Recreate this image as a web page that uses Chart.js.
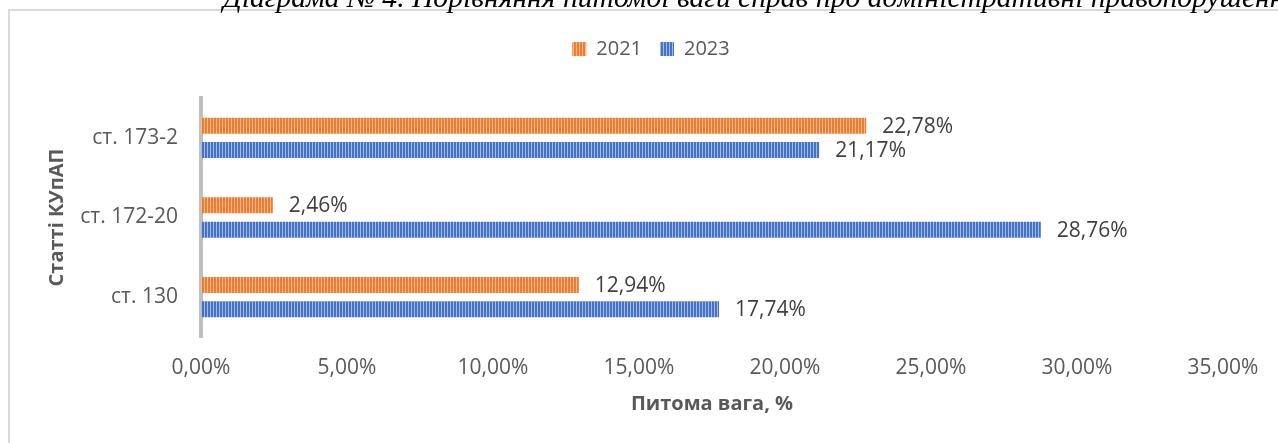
<!DOCTYPE html>
<html>
<head>
<meta charset="utf-8">
<script src="https://cdn.jsdelivr.net/npm/chart.js@4.4.1/dist/chart.umd.min.js"></script>
<style>
  html, body { margin: 0; padding: 0; background: #fff; overflow: hidden; width: 1278px; height: 443px; }
  #frame { position: absolute; left: 8px; top: 9px; width: 1284px; height: 434px;
           border-left: 2px solid #d9d9d9; border-top: 2px solid #d9d9d9; background: #fff; }
  #c { position: absolute; left: 0; top: 0; }
  #doc-title { position: absolute; left: 223px; top: -18px; white-space: nowrap; z-index: 2;
               font-family: "Liberation Serif", "DejaVu Serif", serif; font-style: italic;
               font-size: 29.6px; line-height: 30px; color: #000; }
</style>
</head>
<body>
<div id="frame"><canvas id="c" width="1282" height="432"></canvas></div>
<div id="doc-title">Діаграма № 4. Порівняння питомої ваги справ про адміністративні правопорушення</div>
<script>
// ---- data ----
const categories = ['ст. 173-2', 'ст. 172-20', 'ст. 130'];
const seriesNames = ['2021', '2023'];
const values2021 = [22.78, 2.46, 12.94];
const values2023 = [21.17, 28.76, 17.74];
const xTickMin = 0;
const xTickMax = 35;
const xTickStep = 5;
const xAxisTitle = 'Питома вага, %';
const yAxisTitle = 'Статті КУпАП';

// ---- helpers ----
const fmt = v => v.toFixed(2).replace('.', ',') + '%';
const canvas = document.getElementById('c');
const ctx = canvas.getContext('2d');

function stripes(base, light) {
  const p = document.createElement('canvas');
  p.width = 3; p.height = 4;
  const g = p.getContext('2d');
  g.fillStyle = base; g.fillRect(0, 0, 3, 4);
  g.fillStyle = light; g.fillRect(2, 0, 1, 4);
  return ctx.createPattern(p, 'repeat');
}
const orangeFill = stripes('#ED7D31', '#F7B98E');
const blueFill = stripes('#4472C4', '#A3BBE8');

const valueLabels = {
  id: 'valueLabels',
  afterDatasetsDraw(chart) {
    const c = chart.ctx;
    c.save();
    c.font = '21px "Open Sans"';
    c.fillStyle = '#404040';
    c.textAlign = 'left';
    c.textBaseline = 'middle';
    chart.data.datasets.forEach((ds, di) => {
      chart.getDatasetMeta(di).data.forEach((bar, i) => {
        c.fillText(fmt(ds.data[i]), bar.x + 16, bar.y + 1);
      });
    });
    c.restore();
  }
};

const tickFont = { family: 'Open Sans', size: 21 };
const legendFont = { family: 'Open Sans', size: 20 };
const titleFont = { family: 'Open Sans', size: 20, weight: 'bold' };

new Chart(ctx, {
  type: 'bar',
  data: {
    labels: categories,
    datasets: [
      { label: seriesNames[0], data: values2021, backgroundColor: orangeFill, borderWidth: 0 },
      { label: seriesNames[1], data: values2023, backgroundColor: blueFill, borderWidth: 0 }
    ]
  },
  options: {
    indexAxis: 'y',
    responsive: false,
    animation: false,
    layout: { padding: { left: 10, right: 10, top: 10, bottom: 0 } },
    datasets: { bar: { categoryPercentage: 0.61, barPercentage: 0.66 } },
    plugins: {
      legend: {
        position: 'top', align: 'center',
        labels: { boxWidth: 14, boxHeight: 14, padding: 18, color: '#595959', font: legendFont }
      },
      subtitle: {
        display: true, text: '', position: 'top', weight: 500,
        font: { size: 10, lineHeight: 1 }, padding: { top: 19, bottom: 0 }
      },
      tooltip: { enabled: false }
    },
    scales: {
      x: {
        min: xTickMin, max: xTickMax,
        ticks: { stepSize: xTickStep, callback: v => fmt(v), color: '#595959', font: tickFont, padding: 18 },
        grid: { display: false, drawTicks: false },
        border: { display: false },
        title: { display: true, text: xAxisTitle, color: '#595959', font: titleFont, padding: { top: 0, bottom: 27 } },
        afterFit(s) { s.height = 106; s.paddingRight = 69; }
      },
      y: {
        z: 1,
        ticks: { color: '#595959', font: tickFont, padding: 23 },
        grid: { display: false, drawTicks: false },
        border: { display: true, color: '#bfbfbf', width: 4 },
        title: { display: true, text: yAxisTitle, color: '#595959', font: titleFont, padding: { top: 25, bottom: 0 } },
        afterFit(s) { s.width = 181; s.paddingTop = 87; }
      }
    }
  },
  plugins: [valueLabels]
});
</script>
</body>
</html>
